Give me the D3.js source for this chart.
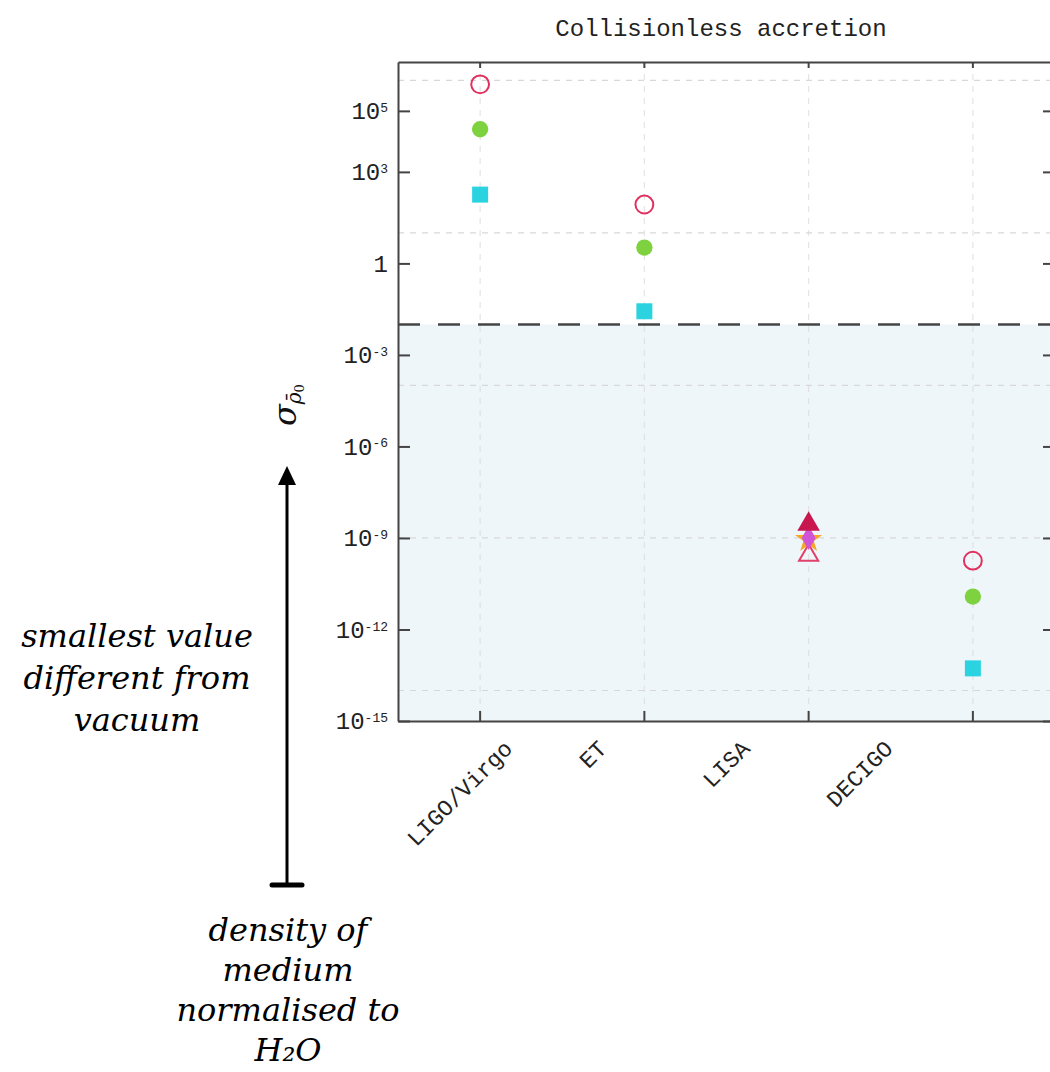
<!DOCTYPE html>
<html lang="en">
<head>
<meta charset="UTF-8">
<title>Collisionless accretion</title>
<script src="https://d3js.org/d3.v7.min.js"></script>
<style>
  html, body { margin: 0; background: #fff; }
  body { width: 1050px; height: 1072px; overflow: hidden; }
  .mono { font-family: "Liberation Mono", "Courier New", monospace; fill: #222; }
  .note { font-family: "DejaVu Serif", serif; font-style: italic; fill: #000; }
  .grid { stroke: #d8d8d8; stroke-width: 1.2; stroke-dasharray: 6 6; }
</style>
</head>
<body>
<div id="chart"></div>
<script>
// ---- data ----
const detectors = ["LIGO/Virgo", "ET", "LISA", "DECIGO"];
// sigma of the normalised density, one entry per detector (null = no point)
const openCircleVals     = [7.4e5, 85, null, 1.8e-10];
const greenDotVals       = [2.5e4, 3.3, null, 1.2e-11];
const cyanSquareVals     = [180, 0.027, null, 5.3e-14];
const openTriangleVals   = [null, null, 2.7e-10, null];
const orangeStarVals     = [null, null, 9e-10, null];
const magentaVals        = [null, null, 1.0e-9, null];
const filledTriangleVals = [null, null, 2.8e-9, null];

const yTicks = [1e5, 1e3, 1, 1e-3, 1e-6, 1e-9, 1e-12, 1e-15];
const yGrid = [1e6, 10, 1e-4, 1e-9, 1e-14];
const vacuumLimit = 1e-2;
const yDomain = [1e-15, 4e6];

const title = "Collisionless accretion";
const leftNote = ["smallest value", "different from", "vacuum"];
const bottomNote = ["density of", "medium", "normalised to", "H₂O"];

// ---- layout ----
const width = 1050, height = 1072;
const pLeft = 398, pRight = 1055, pTop = 62, pBottom = 721;

const svg = d3.select("#chart").append("svg")
  .attr("width", width)
  .attr("height", height);

const x = d3.scaleBand().domain(detectors).range([pLeft, pRight]).padding(0);
const xc = d => x(d) + x.bandwidth() / 2;
const labelX = d3.scalePoint().domain(detectors).range([460, 860]);
const y = d3.scaleLog().domain(yDomain).range([pBottom, pTop]);

// shaded "vacuum" region
svg.append("rect")
  .attr("x", pLeft).attr("y", y(vacuumLimit))
  .attr("width", pRight - pLeft).attr("height", pBottom - y(vacuumLimit))
  .attr("fill", "#eef6fa");

// grid
svg.append("g").selectAll("line").data(yGrid).enter().append("line")
  .attr("class", "grid")
  .attr("x1", pLeft).attr("x2", pRight)
  .attr("y1", d => y(d)).attr("y2", d => y(d));

svg.append("g").selectAll("line").data(detectors).enter().append("line")
  .attr("class", "grid")
  .attr("stroke-opacity", 0.7)
  .attr("x1", xc).attr("x2", xc)
  .attr("y1", pTop).attr("y2", pBottom);

// vacuum limit line
svg.append("line")
  .attr("x1", pLeft).attr("x2", pRight)
  .attr("y1", y(vacuumLimit)).attr("y2", y(vacuumLimit))
  .attr("stroke", "#444").attr("stroke-width", 2.5)
  .attr("stroke-dasharray", "22 18");

// axes
const axisColor = "#444";
const styleAxis = g => {
  g.selectAll(".domain").attr("stroke", axisColor).attr("stroke-width", 2);
  g.selectAll(".tick line").attr("stroke", axisColor).attr("stroke-width", 2);
};

const yAxis = svg.append("g")
  .attr("transform", `translate(${pLeft},0)`)
  .call(d3.axisLeft(y).tickValues(yTicks).tickSizeInner(-12).tickSizeOuter(0).tickPadding(10))
  .call(styleAxis);

yAxis.selectAll(".tick text")
  .attr("class", "mono")
  .attr("font-size", 24)
  .attr("dy", "0.32em")
  .text("")
  .each(function(d) {
    const t = d3.select(this);
    const e = Math.round(Math.log10(d));
    if (e === 0) { t.text("1"); return; }
    t.append("tspan").text("10");
    t.append("tspan").attr("dy", "-0.55em").attr("font-size", 13).text(e);
  });

svg.append("g")
  .attr("transform", `translate(${pRight - 2},0)`)
  .call(d3.axisRight(y).tickValues(yTicks).tickSize(-10).tickFormat(""))
  .call(styleAxis)
  .select(".domain").remove();

svg.append("g")
  .attr("transform", `translate(0,${pTop})`)
  .call(d3.axisTop(x).tickSizeInner(-6).tickSizeOuter(0).tickFormat(""))
  .call(styleAxis);

svg.append("g")
  .attr("transform", `translate(0,${pBottom})`)
  .call(d3.axisBottom(x).tickSizeInner(-10).tickSizeOuter(0).tickFormat(""))
  .call(styleAxis);

// rotated detector labels
const capH = 14;
svg.append("g").selectAll("text").data(detectors).enter().append("text")
  .attr("class", "mono")
  .attr("font-size", 23)
  .attr("text-anchor", "middle")
  .text(d => d)
  .each(function(d) {
    const L = this.getComputedTextLength();
    const tx = labelX(d) + 0.354 * capH;
    const ty = 740 + (L + capH) * 0.354 + 0.354 * capH;
    d3.select(this).attr("transform", `translate(${tx},${ty}) rotate(-45)`);
  });

// markers
const series = [
  { vals: cyanSquareVals, type: d3.symbolSquare, size: 256, fill: "#2bd3e0", stroke: "none" },
  { vals: greenDotVals, type: d3.symbolCircle, size: 210, fill: "#7ed23f", stroke: "none" },
  { vals: openCircleVals, type: d3.symbolCircle, size: 250, fill: "none", stroke: "#e0305f" },
  { vals: openTriangleVals, type: d3.symbolTriangle, size: 160, fill: "none", stroke: "#e0406a" },
  { vals: orangeStarVals, type: d3.symbolStar, size: 230, fill: "#f5a623", stroke: "none" },
  { vals: magentaVals, type: d3.symbolDiamond, size: 170, fill: "#d153d6", stroke: "none" },
  { vals: filledTriangleVals, type: d3.symbolTriangle, size: 220, fill: "#c8164f", stroke: "none" }
];

series.forEach(s => {
  const pts = detectors.map((d, i) => ({ d, v: s.vals[i] })).filter(p => p.v != null);
  svg.append("g").selectAll("path").data(pts).enter().append("path")
    .attr("d", d3.symbol().type(s.type).size(s.size))
    .attr("transform", p => `translate(${xc(p.d)},${y(p.v)})`)
    .attr("fill", s.fill)
    .attr("stroke", s.stroke)
    .attr("stroke-width", 2);
});

// title
svg.append("text")
  .attr("class", "mono")
  .attr("x", 721).attr("y", 36)
  .attr("text-anchor", "middle")
  .attr("font-size", 24)
  .text(title);

// y label: sigma_{rho-bar 0}
const yl = svg.append("text")
  .attr("transform", "translate(296,426) rotate(-90)")
  .attr("font-family", "DejaVu Serif, serif")
  .attr("font-style", "italic")
  .attr("fill", "#111");
yl.append("tspan").attr("font-size", 32).text("σ");
yl.append("tspan").attr("font-size", 20).attr("dy", 5).text("ρ\u0304");
yl.append("tspan").attr("font-size", 13).attr("dy", 3).attr("font-style", "normal").text("0");

// arrow annotation
const arX = 287, tipY = 466, baseY = 885;
svg.append("line")
  .attr("x1", arX).attr("x2", arX)
  .attr("y1", tipY + 12).attr("y2", baseY)
  .attr("stroke", "#000").attr("stroke-width", 3);
svg.append("path")
  .attr("d", d3.line()([[arX, tipY], [arX - 9, tipY + 19], [arX + 9, tipY + 19]]) + "Z")
  .attr("fill", "#000");
svg.append("line")
  .attr("x1", arX - 15).attr("x2", arX + 15)
  .attr("y1", baseY).attr("y2", baseY)
  .attr("stroke", "#000").attr("stroke-width", 5)
  .attr("stroke-linecap", "round");

svg.append("g").selectAll("text").data(leftNote).enter().append("text")
  .attr("class", "note")
  .attr("font-size", 32)
  .attr("text-anchor", "middle")
  .attr("x", 137)
  .attr("y", (d, i) => 647 + i * 42)
  .text(d => d);

svg.append("g").selectAll("text").data(bottomNote).enter().append("text")
  .attr("class", "note")
  .attr("font-size", 32)
  .attr("text-anchor", "middle")
  .attr("x", 288)
  .attr("y", (d, i) => 941 + i * 40)
  .text(d => d);
</script>
</body>
</html>
